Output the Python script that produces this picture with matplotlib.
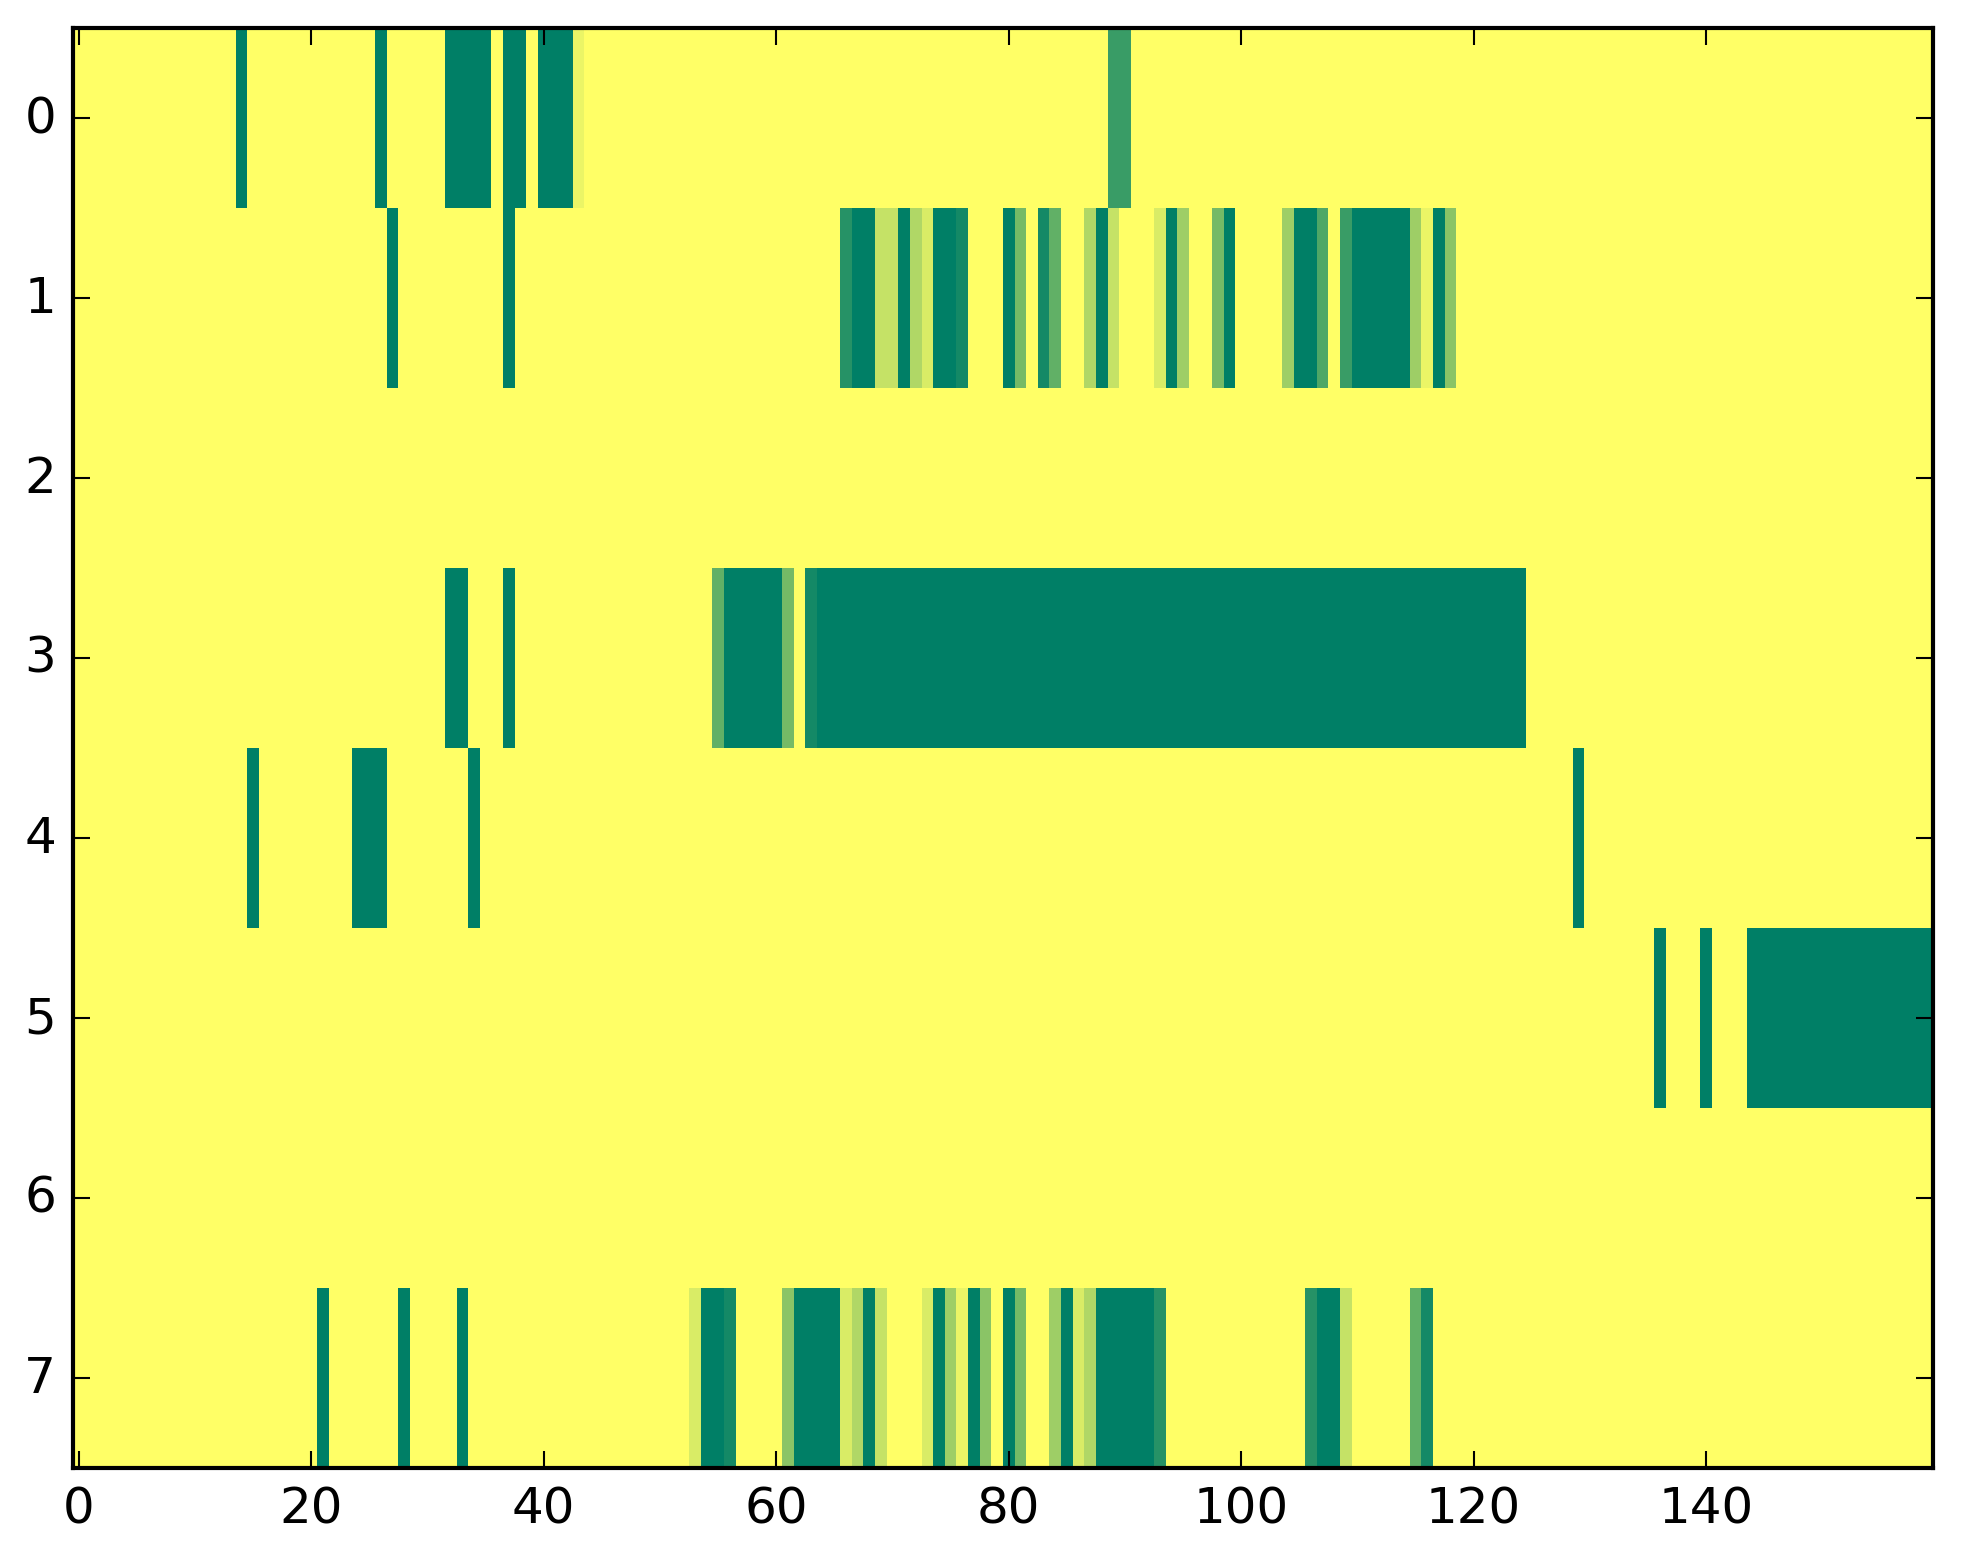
import numpy as np
import matplotlib
matplotlib.use('Agg')
import matplotlib.pyplot as plt

plt.style.use('classic')

# grid size: 8 rows x 160 columns
n_rows = 8
n_cols = 160

# filled cells per row, as runs: (first column, last column, value)
row0 = [(14, 14, 1.0), (26, 26, 1.0), (32, 35, 1.0), (37, 38, 1.0), (40, 42, 1.0),
        (43, 43, 0.08), (89, 90, 0.77)]
row1 = [(27, 27, 1.0), (37, 37, 1.0), (66, 66, 0.85), (67, 68, 1.0), (69, 70, 0.23),
        (71, 71, 1.0), (72, 72, 0.31), (73, 73, 0.15), (74, 75, 1.0), (76, 76, 0.92),
        (80, 80, 1.0), (81, 81, 0.54), (83, 83, 0.92), (84, 84, 0.62), (87, 87, 0.31),
        (88, 88, 1.0), (89, 89, 0.23), (93, 93, 0.15), (94, 94, 1.0), (95, 95, 0.38),
        (98, 98, 0.54), (99, 99, 1.0), (104, 104, 0.38), (105, 106, 1.0), (107, 107, 0.69),
        (109, 109, 0.77), (110, 114, 1.0), (115, 115, 0.38), (116, 116, 0.08),
        (117, 117, 1.0), (118, 118, 0.46)]
row2 = []
row3 = [(32, 33, 1.0), (37, 37, 1.0), (55, 55, 0.62), (56, 60, 1.0), (61, 61, 0.54),
        (63, 63, 0.92), (64, 124, 1.0)]
row4 = [(15, 15, 1.0), (24, 26, 1.0), (34, 34, 1.0), (129, 129, 1.0)]
row5 = [(136, 136, 1.0), (140, 140, 1.0), (144, 159, 1.0)]
row6 = []
row7 = [(21, 21, 1.0), (28, 28, 1.0), (33, 33, 1.0), (53, 53, 0.15), (54, 55, 1.0),
        (56, 56, 0.92), (61, 61, 0.46), (62, 65, 1.0), (66, 66, 0.15), (67, 67, 0.31),
        (68, 68, 1.0), (69, 69, 0.23), (73, 73, 0.15), (74, 74, 1.0), (75, 75, 0.38),
        (76, 76, 0.08), (77, 77, 1.0), (78, 78, 0.46), (80, 80, 1.0), (81, 81, 0.54),
        (84, 84, 0.38), (85, 85, 1.0), (86, 86, 0.15), (87, 87, 0.31), (88, 92, 1.0),
        (93, 93, 0.85), (106, 106, 0.85), (107, 108, 1.0), (109, 109, 0.23),
        (115, 115, 0.62), (116, 116, 0.92)]

rows = [row0, row1, row2, row3, row4, row5, row6, row7]

grid = np.zeros((n_rows, n_cols))
for i, runs in enumerate(rows):
    for start, stop, val in runs:
        grid[i, start:stop + 1] = val

W, H = 1963, 1564
fig = plt.figure(figsize=(W / 300, H / 300), dpi=300)
ax = fig.add_axes([72.7 / W, (H - 1469) / H, 1860 / W, 1440 / H])

ax.imshow(grid, cmap='summer_r', vmin=0, vmax=1, aspect='auto', interpolation='nearest')
ax.set_xlim(-0.5, n_cols - 0.5)
ax.set_ylim(n_rows - 0.5, -0.5)
ax.set_xticks(np.arange(0, n_cols, 20))
ax.set_yticks(np.arange(n_rows))

plt.savefig('out.png', dpi=300)
